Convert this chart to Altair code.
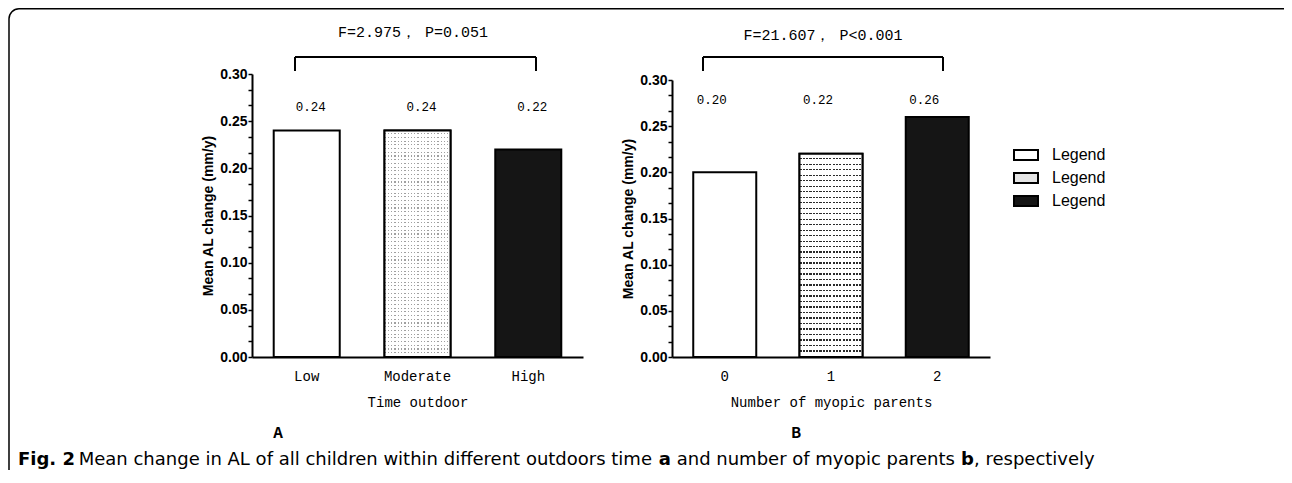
import altair as alt
import pandas as pd

# ---------------- data ----------------
groups = ["g0", "g1", "g2"]
outdoor_cats = ["Low", "Moderate", "High"]
outdoor_vals = [0.24, 0.24, 0.22]
parent_cats = ["0", "1", "2"]
parent_vals = [0.20, 0.22, 0.26]
y_tick_values = [round(i / 60, 6) for i in range(19)]
stat_a = "F=2.975， P=0.051"
stat_b = "F=21.607， P<0.001"
panel_a = "A"
panel_b = "B"
cap_bold = "Fig. 2"
cap_1 = "Mean change in AL of all children within different outdoors time"
cap_a = "a"
cap_2 = "and number of myopic parents"
cap_b = "b"
cap_3 = ", respectively"

W, H = 1276, 462
MONO = "Liberation Mono"
SANS = "Liberation Sans"
CAP = "DejaVu Sans"


def stripes(n, frac, color, bg, horizontal_lines=True):
    stops = []
    for i in range(n):
        a = i / n
        m = (i + 1 - frac) / n
        e = (i + 1) / n
        stops += [
            {"offset": round(a, 5), "color": bg},
            {"offset": round(m, 5), "color": bg},
            {"offset": round(m, 5), "color": color},
            {"offset": round(e, 5), "color": color},
        ]
    if horizontal_lines:
        return {"gradient": "linear", "x1": 0, "y1": 0, "x2": 0, "y2": 1, "stops": stops}
    return {"gradient": "linear", "x1": 0, "y1": 0, "x2": 1, "y2": 0, "stops": stops}


CLEAR = "rgba(255,255,255,0)"


def panel(cats, vals, xrange, ytop, p_in, p_out, xtitle, yoff, label_y, label_dx,
          line_grad, col_grad):
    df = pd.DataFrame({"cat": cats, "val": vals, "g": groups})
    xaxis = alt.Axis(orient="bottom", offset=349 - H, labelAngle=0, ticks=False,
                     labelFont=MONO, labelFontSize=14, labelColor="black",
                     labelPadding=12, domainColor="black", domainWidth=2,
                     title=xtitle, titleFont=MONO, titleFontSize=14,
                     titleFontWeight="normal", titleColor="black", titlePadding=12)
    yaxis = alt.Axis(orient="left", offset=-yoff, values=y_tick_values,
                     labelExpr="abs(datum.value*20 - round(datum.value*20)) < 0.001 ? format(datum.value, '.2f') : ''",
                     labelFont=SANS, labelFontWeight="bold", labelFontSize=14,
                     labelColor="black", labelPadding=1, labelOverlap=False,
                     labelFlush=False, tickColor="black", tickSize=4, tickWidth=1.5,
                     domainColor="black", domainWidth=2, grid=False,
                     title="Mean AL change (mm/y)", titleFont=SANS,
                     titleFontSize=14, titleFontWeight="bold", titleColor="black",
                     titlePadding=4)
    x = alt.X("cat:N", sort=cats,
              scale=alt.Scale(domain=cats, range=xrange, paddingInner=p_in,
                              paddingOuter=p_out, align=0.5),
              axis=xaxis)
    y = alt.Y("val:Q", scale=alt.Scale(domain=[0, 0.3], range=[349, ytop], nice=False),
              axis=yaxis)
    fill = alt.Fill("g:N", scale=alt.Scale(domain=groups, range=["white", "#e4e4e4", "#151515"]),
                    legend=alt.Legend(orient="none", legendX=1005, legendY=134, title=None,
                                      labelExpr="'Legend'", padding=0, rowPadding=0,
                                      symbolType="M-1,-0.42H1V0.42H-1Z", symbolSize=576,
                                      symbolStrokeColor="black", symbolStrokeWidth=2,
                                      labelFont=SANS, labelFontSize=16, labelColor="black",
                                      labelOffset=13))
    base = alt.Chart(df)
    bars = base.mark_bar(stroke="black", strokeWidth=2).encode(x=x, y=y, fill=fill)
    lines = base.transform_filter(alt.datum.g == "g1").mark_bar(
        fill=line_grad, strokeWidth=0).encode(x=x, y=y)
    cols = base.transform_filter(alt.datum.g == "g1").mark_bar(
        fill=col_grad, strokeWidth=0).encode(x=x, y=y)
    outline = base.transform_filter(alt.datum.g == "g1").mark_bar(
        fill="white", fillOpacity=0, stroke="black", strokeWidth=2).encode(x=x, y=y)
    labels = base.mark_text(font=MONO, fontSize=12.5, color="black", dx=label_dx).encode(
        x=x, y=alt.value(label_y), text=alt.Text("val:Q", format=".2f"))
    return alt.layer(bars, lines, cols, outline, labels)


left = panel(outdoor_cats, outdoor_vals, [244, 575], 66, 0.404, 0.196, "Time outdoor",
             244, 99, 4,
             stripes(61, 0.3, "#a0a0a0", "white"),
             stripes(20, 0.62, "white", CLEAR, horizontal_lines=False))
right = panel(parent_cats, parent_vals, [664, 982], 72, 0.407, 0.2, "Number of myopic parents",
              664, 92, -13,
              stripes(37, 0.22, "#2a2a2a", "white"),
              stripes(19, 0.36, "white", CLEAR, horizontal_lines=False))

dummy = pd.DataFrame({"k": [0]})
d = alt.Chart(dummy)


def rule(x1, x2, y1, y2, w=2):
    return d.mark_rule(color="black", strokeWidth=w).encode(
        x=alt.value(x1), x2=alt.value(x2), y=alt.value(y1), y2=alt.value(y2))


def text(t, xv, yv, size, font, weight="normal", align="center", baseline="middle"):
    return d.mark_text(text=t, font=font, fontSize=size, fontWeight=weight,
                       align=align, baseline=baseline, color="black").encode(
        x=alt.value(xv), y=alt.value(yv))


frame = d.mark_rect(fill="white", fillOpacity=0, stroke="black", strokeWidth=1.5,
                    cornerRadius=10).encode(
    x=alt.value(1), x2=alt.value(1300), y=alt.value(0.75), y2=alt.value(490))

CY = 457
decor = [
    frame,
    rule(287, 528, 49, 49), rule(287, 287, 49, 63), rule(528, 528, 49, 63),
    rule(695, 935, 49, 49), rule(695, 695, 49, 63), rule(935, 935, 49, 63),
    text(stat_a, 405, 24, 15, MONO),
    text(stat_b, 815, 27, 15, MONO),
    text(panel_a, 270, 425, 15, "Noto Sans CJK SC", "bold"),
    text(panel_b, 788, 425, 15, "Noto Sans CJK SC", "bold"),
    text(cap_bold, 10, CY, 18, CAP, "bold", "left", "alphabetic"),
    text(cap_1, 70.7, CY, 18, CAP, "normal", "left", "alphabetic"),
    text(cap_a, 650.8, CY, 18, CAP, "bold", "left", "alphabetic"),
    text(cap_2, 668.7, CY, 18, CAP, "normal", "left", "alphabetic"),
    text(cap_b, 953.1, CY, 18, CAP, "bold", "left", "alphabetic"),
    text(cap_3, 966, CY, 18, CAP, "normal", "left", "alphabetic"),
]

chart = alt.layer(left, right, *decor).resolve_scale(
    x="independent", y="independent"
).properties(
    width=W, height=H, padding=0, autosize=alt.AutoSizeParams(type="none")
).configure_view(strokeWidth=0)

chart.save("out.html", embed_options={"renderer": "svg", "actions": False})
